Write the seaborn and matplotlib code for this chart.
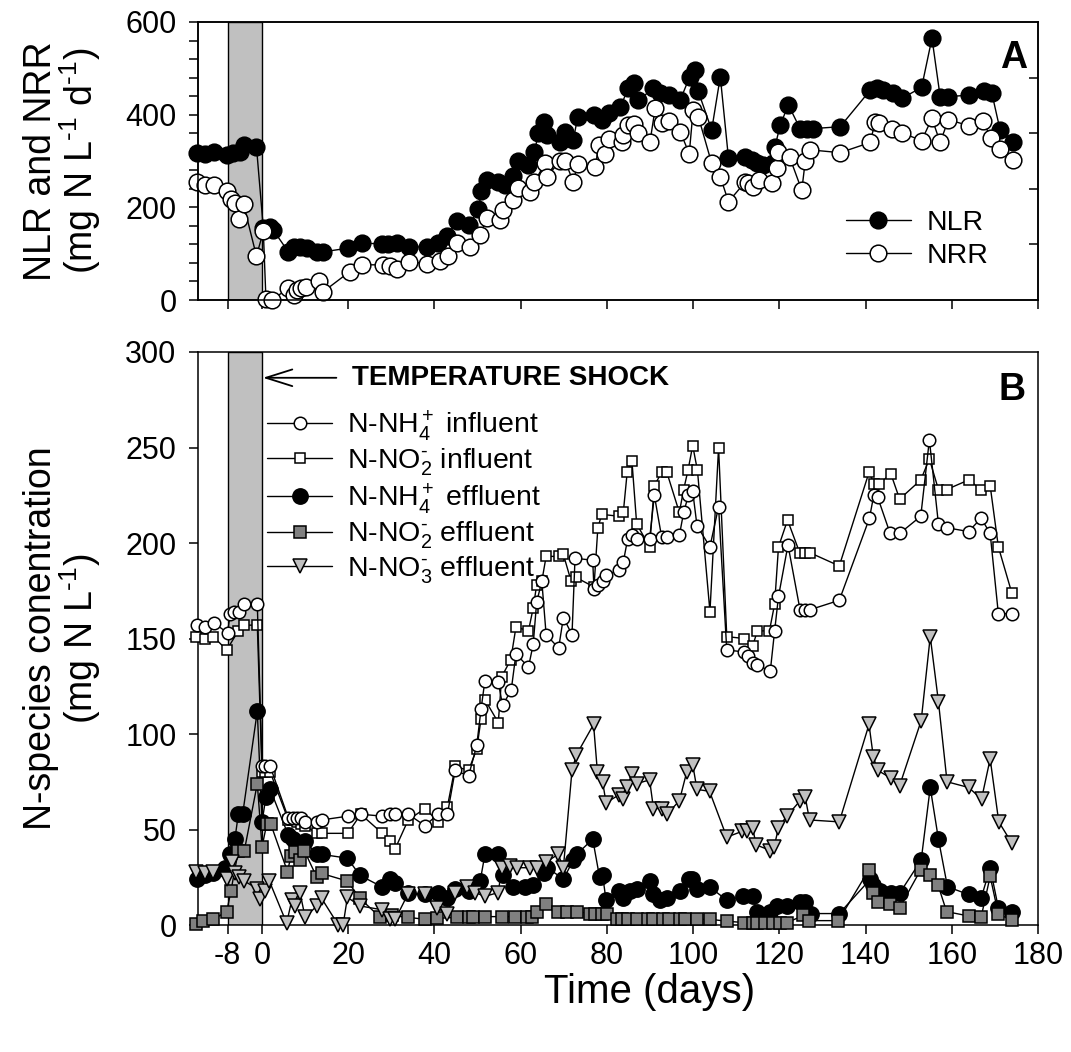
import numpy as np
import seaborn as sns
import matplotlib
matplotlib.use("Agg")
import matplotlib.pyplot as plt

# ---------------- data ----------------
# panel A: loading / removal rates, mg N L-1 d-1
nlr_day = [-15.2, -13.2, -11.1, -8.2, -6.7, -5.2, -4.3, -1.3, 0.3, 1.9, 2.6, 6.1, 7.3, 8.8, 10.4, 12.7, 14.2,
           20.0, 23.1, 27.8, 29.3, 31.3, 34.2, 38.2, 40.9, 42.9, 45.2, 48.1, 50.2, 50.9, 52.1, 54.8, 56.4,
           58.3, 59.3, 61.8, 63.2, 64.1, 65.3, 66.0, 69.1, 70.3, 72.2, 73.2, 76.9, 78.8, 80.4, 83.1, 85.0,
           86.2, 87.3, 90.8, 92.3, 94.3, 97.0, 99.2, 100.5, 101.2, 104.3, 106.3, 108.2, 112.1, 113.6, 114.8,
           116.3, 118.6, 119.0, 120.2, 122.1, 124.8, 126.4, 127.9, 134.1, 141.1, 142.6, 144.1, 146.4, 148.4,
           153.0, 155.4, 157.3, 159.2, 163.9, 167.4, 169.3, 171.2, 174.3]
nlr_val = [317, 316, 319, 314, 317, 319, 334, 331, 155, 158, 151, 104, 115, 114, 112, 104, 104,
           112, 123, 121, 121, 123, 114, 115, 123, 138, 171, 162, 196, 236, 259, 255, 248,
           268, 301, 291, 320, 360, 385, 356, 341, 363, 345, 394, 399, 388, 403, 417, 457,
           468, 431, 457, 446, 442, 431, 482, 496, 450, 367, 482, 306, 309, 302, 295,
           291, 295, 331, 378, 421, 370, 370, 370, 374, 453, 457, 453, 446, 435,
           459, 565, 439, 439, 442, 450, 446, 367, 341]

nrr_day = [-15.0, -13.2, -11.1, -8.2, -7.1, -6.2, -5.3, -4.3, -1.3, 0.3, 0.9, 2.2, 6.1, 7.3, 8.1, 9.0, 10.2,
           13.1, 14.2, 20.3, 23.3, 28.0, 29.7, 31.3, 34.2, 38.2, 41.3, 43.2, 45.2, 48.2, 50.6, 52.1, 55.2,
           56.0, 58.3, 59.3, 62.2, 63.2, 65.7, 66.0, 69.1, 70.3, 72.2, 73.2, 77.3, 78.1, 79.6, 80.4, 83.4,
           83.8, 85.0, 86.2, 87.3, 90.0, 91.2, 92.7, 94.3, 97.0, 99.1, 100.0, 101.2, 104.3, 106.3, 108.2,
           112.1, 112.8, 114.0, 115.2, 118.3, 119.4, 119.8, 122.4, 125.2, 126.0, 127.2, 134.1, 141.1, 142.2,
           143.2, 146.1, 148.4, 153.0, 155.4, 157.3, 159.2, 164.1, 167.2, 169.1, 171.1, 174.3]
nrr_val = [255, 249, 248, 235, 218, 210, 175, 207, 95, 148, 3, 0, 25, 11, 21, 25, 29,
           40, 18, 61, 76, 76, 73, 66, 83, 78, 85, 95, 124, 115, 140, 176, 172,
           194, 216, 241, 234, 255, 296, 265, 300, 300, 255, 293, 287, 334, 315, 347, 342,
           356, 378, 380, 360, 342, 414, 381, 387, 363, 316, 410, 396, 295, 266, 212,
           255, 252, 244, 259, 253, 284, 320, 308, 237, 299, 324, 318, 340, 385,
           383, 370, 361, 344, 392, 340, 389, 376, 387, 349, 326, 302]

# panel B: N species, mg N L-1
nh4_in_day = [-15.2, -13.2, -11.1, -8.0, -7.4, -6.4, -5.4, -4.1, -1.1, 0.0, 0.8, 1.9, 6.1, 7.1, 8.1, 9.1, 10.0,
              12.7, 13.8, 19.9, 22.9, 27.9, 29.6, 30.8, 33.9, 37.8, 40.8, 43.0, 44.8, 47.9, 49.8, 50.8, 51.7,
              54.8, 55.8, 57.8, 58.9, 61.8, 62.9, 63.7, 64.9, 65.9, 68.8, 69.9, 71.9, 72.6, 76.7, 77.0, 78.0,
              79.1, 79.9, 82.8, 83.8, 84.8, 85.8, 86.9, 89.9, 91.0, 92.7, 93.9, 96.8, 97.8, 98.9, 99.9, 100.9,
              103.9, 105.9, 107.8, 111.7, 112.8, 114.0, 114.9, 117.9, 118.9, 119.8, 122.0, 124.8, 126.0, 127.0,
              133.9, 140.9, 141.9, 142.8, 145.7, 147.9, 152.8, 154.8, 156.9, 158.8, 163.9, 166.8, 168.9, 170.8,
              173.9]
nh4_in_val = [157, 156, 158, 153, 163, 164, 164, 168, 168, 83, 83, 83, 56, 56, 56, 56, 54,
              54, 55, 57, 58, 57, 58, 58, 58, 52, 58, 58, 81, 78, 94, 113, 128,
              127, 115, 123, 142, 135, 147, 169, 180, 152, 145, 161, 152, 192, 191, 176, 178,
              180, 183, 186, 190, 202, 204, 202, 202, 225, 203, 203, 204, 216, 225, 227, 209,
              198, 219, 144, 143, 141, 137, 136, 133, 154, 172, 199, 165, 165, 165,
              170, 213, 225, 224, 205, 205, 214, 254, 210, 208, 206, 213, 205, 163,
              163]

no2_in_day = [-15.3, -13.2, -11.3, -8.2, -5.5, -4.3, -1.1, 0.0, 0.8, 1.9, 6.1, 7.1, 8.1, 9.1, 10.0, 12.7,
              13.8, 19.9, 22.9, 27.9, 29.7, 30.9, 33.9, 37.8, 40.9, 43.0, 44.8, 47.9, 49.8, 50.8, 51.7,
              54.8, 55.6, 57.7, 58.9, 61.8, 62.9, 63.7, 64.9, 65.9, 68.8, 69.9, 71.7, 72.8, 77.0, 77.9,
              78.8, 82.8, 83.8, 84.7, 85.8, 86.9, 89.9, 91.0, 92.7, 93.9, 96.8, 97.8, 98.8, 99.9, 101.0,
              103.9, 105.9, 107.8, 111.8, 113.8, 114.9, 117.7, 118.9, 119.8, 121.9, 124.7, 126.0, 127.0,
              133.9, 140.8, 142.0, 143.0, 145.9, 147.9, 152.8, 154.8, 156.9, 158.8, 163.9, 166.8, 168.9,
              170.8, 173.9]
no2_in_val = [151, 150, 151, 144, 154, 157, 157, 80, 80, 80, 55, 55, 54, 53, 52, 48,
              48, 48, 58, 48, 44, 40, 55, 61, 54, 62, 83, 81, 92, 108, 118,
              106, 130, 139, 156, 154, 166, 178, 180, 193, 193, 194, 180, 182, 177, 208,
              215, 214, 216, 237, 243, 210, 198, 230, 237, 237, 216, 228, 238, 251, 238,
              164, 250, 151, 150, 146, 154, 154, 168, 198, 212, 195, 195, 195,
              188, 237, 231, 231, 236, 223, 233, 244, 228, 228, 233, 228, 230,
              198, 174]

nh4_out_day = [-15.2, -13.2, -11.3, -8.6, -7.4, -6.3, -5.5, -4.5, -1.1, 0.0, 0.9, 1.9, 6.1, 7.1, 8.5, 10.0,
               12.7, 13.8, 19.8, 22.7, 27.8, 29.7, 30.9, 33.9, 37.8, 40.7, 42.9, 44.8, 47.9, 50.6, 51.7,
               54.8, 55.8, 58.3, 61.0, 62.9, 65.3, 66.2, 69.9, 72.2, 73.0, 76.7, 78.3, 79.0, 79.8, 82.7,
               83.8, 85.4, 86.9, 89.9, 90.8, 92.4, 93.9, 97.0, 99.0, 99.7, 100.9, 103.8, 107.8, 111.5,
               113.8, 114.8, 117.9, 119.4, 121.7, 124.8, 126.0, 127.3, 133.9, 141.1, 141.7, 143.3, 146.0,
               148.0, 152.9, 155.0, 156.9, 159.0, 163.9, 166.8, 168.9, 170.8, 173.9]
nh4_out_val = [24, 26, 27, 30, 37, 45, 58, 58, 112, 54, 67, 71, 47, 45, 43, 44,
               37, 37, 35, 26, 20, 24, 22, 17, 16, 17, 14, 19, 18, 23, 37,
               37, 26, 20, 20, 21, 27, 30, 24, 34, 37, 45, 25, 26, 13, 18,
               14, 18, 19, 23, 16, 13, 14, 18, 24, 24, 19, 20, 13, 15,
               15, 7, 7, 10, 10, 12, 12, 6, 6, 24, 21, 18, 17,
               17, 34, 72, 45, 20, 16, 14, 30, 9, 7]

no2_out_day = [-15.3, -13.6, -11.3, -8.2, -7.2, -5.5, -4.1, -1.1, 0.0, 1.1, 2.0, 5.9, 6.7, 7.7, 8.8, 9.8,
               12.7, 13.8, 19.8, 22.7, 27.4, 30.1, 33.9, 37.8, 40.5, 45.2, 47.9, 49.0, 51.7, 55.6, 58.7,
               61.4, 62.6, 63.7, 65.9, 68.7, 70.7, 73.0, 76.1, 77.3, 78.8, 80.0, 82.3, 83.4, 85.0, 86.9,
               89.6, 90.8, 93.1, 94.3, 97.0, 98.1, 100.9, 103.9, 107.8, 111.7, 114.0, 114.8, 116.7, 118.6,
               120.2, 121.7, 125.6, 126.8, 133.7, 140.8, 141.8, 142.8, 145.7, 147.9, 152.8, 155.0, 156.8,
               158.8, 164.0, 166.8, 168.9, 170.8, 173.9]
no2_out_val = [0.5, 2, 3, 7, 18, 39, 39, 74, 41, 53, 53, 28, 36, 38, 34, 39,
               25, 27, 23, 14, 4, 5, 4, 3, 3.5, 4, 4.4, 4.4, 4.4, 4.4, 4.4,
               4.4, 4.4, 7, 11, 7, 7, 7, 6, 6, 6, 6, 3, 3, 3, 3,
               3, 3, 3, 3, 3, 3, 3, 3, 2, 1.3, 1.3, 1.2, 1.2, 1.2,
               1.2, 1.2, 5, 2.3, 2.3, 29, 17, 12, 11, 9, 29, 26, 21,
               7, 4.7, 4.1, 25.5, 5.7, 2.6]

no3_out_day = [-15.3, -13.2, -11.3, -8.2, -7.0, -6.2, -5.3, -4.1, -1.1, -0.5, 0.7, 1.7, 5.7, 6.9, 7.7, 8.8,
               10.0, 12.7, 13.8, 17.7, 18.8, 19.8, 22.7, 27.8, 29.7, 30.9, 33.8, 37.8, 40.5, 42.9, 44.8,
               47.5, 49.4, 51.7, 54.8, 55.6, 57.5, 59.1, 62.2, 63.7, 65.9, 68.7, 69.9, 71.9, 72.9, 76.9,
               77.8, 79.0, 79.8, 82.7, 83.8, 84.6, 85.8, 86.9, 89.9, 90.8, 92.7, 93.9, 96.8, 98.5, 99.9,
               100.9, 103.8, 107.8, 111.3, 112.5, 113.8, 114.6, 117.9, 118.8, 119.8, 121.7, 124.8, 126.0,
               127.0, 133.9, 140.8, 141.8, 142.8, 145.8, 147.9, 152.9, 155.0, 156.9, 158.9, 163.9, 166.9,
               168.9, 170.9, 173.9]
no3_out_val = [28, 27, 28, 24, 33, 27, 25, 23, 19, 13.5, 18, 23, 1, 13, 10, 17,
               4, 10, 14, 0, 0, 14.5, 10, 8, 3, 3, 16, 16, 9, 6, 17,
               20, 17, 15, 17, 30, 31, 30, 30, 30, 33, 37, 30, 81, 89, 105,
               80, 75, 64, 68, 66, 72, 79, 74, 76, 61, 61, 58, 65, 80, 84,
               71, 70, 46, 49, 49, 51, 42, 39, 41, 51, 57, 65, 67,
               55, 54, 105, 88, 81, 77, 73, 107, 151, 117, 75, 72, 66,
               87, 54, 43]

xtick_vals = [-8, 0, 20, 40, 60, 80, 100, 120, 140, 160, 180]
shock_start, shock_end = -8, 0

# ---------------- style ----------------
sns.set_style("ticks")
plt.rcParams["font.family"] = ["Liberation Sans", "DejaVu Sans"]
plt.rcParams["mathtext.fontset"] = "custom"
plt.rcParams["mathtext.rm"] = "Liberation Sans"
plt.rcParams["mathtext.it"] = "Liberation Sans:italic"
plt.rcParams["mathtext.bf"] = "Liberation Sans:bold"
plt.rcParams["axes.unicode_minus"] = False
plt.rcParams["axes.linewidth"] = 1.1
plt.rcParams["axes.edgecolor"] = "black"
plt.rcParams["text.color"] = "black"
plt.rcParams["axes.labelcolor"] = "black"
plt.rcParams["xtick.color"] = "black"
plt.rcParams["ytick.color"] = "black"

TICK_FS = 22
LAB_FS = 27
LEG_FS = 20


def draw(ax, days, vals, label, marker, ms, face, z):
    sns.lineplot(x=days, y=vals, ax=ax, sort=False, estimator=None, color="black",
                 linewidth=1.0, marker=marker, markersize=ms, markerfacecolor=face,
                 markeredgecolor="black", markeredgewidth=1.1, label=label,
                 clip_on=False, zorder=z)


def style_axis(ax):
    ax.set_xlim(-14.85, 180)
    ax.set_xticks(xtick_vals)
    ax.axvspan(shock_start, shock_end, facecolor="#c0c0c0", edgecolor="black", lw=1.0, zorder=0.5)
    ax.tick_params(which="both", direction="out", length=6.5, width=1.1, color="black",
                   labelsize=TICK_FS, labelcolor="black", top=False, right=False)
    ax.tick_params(axis="y", pad=9)
    ax.tick_params(axis="x", pad=5)
    ax.set_xlabel("")
    ax.set_ylabel("")


fig = plt.figure(figsize=(10.71, 10.52), dpi=100)
ax_a = fig.add_axes([0.1849, 0.7148, 0.7843, 0.2643])
ax_b = fig.add_axes([0.1849, 0.1207, 0.7843, 0.5447])

# ---------------- panel A ----------------
draw(ax_a, nlr_day, nlr_val, "NLR", "o", 12, "black", 3)
draw(ax_a, nrr_day, nrr_val, "NRR", "o", 12, "white", 4)
style_axis(ax_a)
ax_a.set_ylim(0, 600)
ax_a.set_yticks([0, 200, 400, 600])
ax_a.set_yticks(np.arange(0, 601, 40), minor=True)
ax_a.set_xticklabels([])
ax_a.set_ylabel("NLR and NRR\n(mg N L$^{\\text{-}1}$ d$^{\\text{-}1}$)", fontsize=LAB_FS, linespacing=0.95)
ax_a.yaxis.set_label_coords(-0.113, 0.5)
ax_a.text(0.987, 0.935, "A", transform=ax_a.transAxes, ha="right", va="top",
          fontsize=27, fontweight="bold")
h, l = ax_a.get_legend_handles_labels()
ax_a.legend(h, l, loc="upper left", bbox_to_anchor=(0.771, 0.325), borderaxespad=0,
            borderpad=0, frameon=False, fontsize=LEG_FS + 0.5, handlelength=2.3,
            handletextpad=0.55, labelspacing=0.25)

twin = ax_a.twinx()
twin.set_ylim(0, 600)
twin.set_yticks([120, 240, 360, 480])
twin.tick_params(direction="in", length=6.5, width=1.1, labelright=False)

# ---------------- panel B ----------------
draw(ax_b, nh4_out_day, nh4_out_val, "N-NH$_4^+$ effluent", "o", 11, "black", 3)
draw(ax_b, no2_out_day, no2_out_val, "N-NO$_2^{\\text{-}}$ effluent", "s", 9, "#808080", 3.2)
draw(ax_b, no3_out_day, no3_out_val, "N-NO$_3^{\\text{-}}$ effluent", "v", 10.5, "#c0c0c0", 3.4)
draw(ax_b, no2_in_day, no2_in_val, "N-NO$_2^{\\text{-}}$ influent", "s", 7.2, "white", 3.6)
draw(ax_b, nh4_in_day, nh4_in_val, "N-NH$_4^+$ influent", "o", 9, "white", 3.8)
style_axis(ax_b)
ax_b.set_ylim(0, 300)
ax_b.set_yticks(np.arange(0, 301, 50))
ax_b.set_xticklabels([str(v) for v in xtick_vals])
ax_b.set_xlabel("Time (days)", fontsize=29)
ax_b.xaxis.set_label_coords(0.538, -0.084)
ax_b.set_ylabel("N-species conentration\n(mg N L$^{\\text{-}1}$)", fontsize=LAB_FS, linespacing=0.95)
ax_b.yaxis.set_label_coords(-0.113, 0.5)
ax_b.text(0.985, 0.965, "B", transform=ax_b.transAxes, ha="right", va="top",
          fontsize=27, fontweight="bold")
ax_b.annotate("TEMPERATURE SHOCK", xy=(0.2, 286.5), xytext=(20.9, 286.5),
              ha="left", va="center", fontsize=20, fontweight="bold",
              arrowprops=dict(arrowstyle="->,head_length=0.95,head_width=0.3", lw=1.3,
                              color="black", shrinkA=9, shrinkB=0))

h, l = ax_b.get_legend_handles_labels()
order = [4, 3, 0, 1, 2]
ax_b.legend([h[i] for i in order], [l[i] for i in order], loc="upper left",
            bbox_to_anchor=(0.082, 0.902), borderaxespad=0, borderpad=0, frameon=False,
            fontsize=LEG_FS + 0.5, handlelength=2.3, handletextpad=0.5, labelspacing=0.12)

fig.savefig("out.png", dpi=100)
